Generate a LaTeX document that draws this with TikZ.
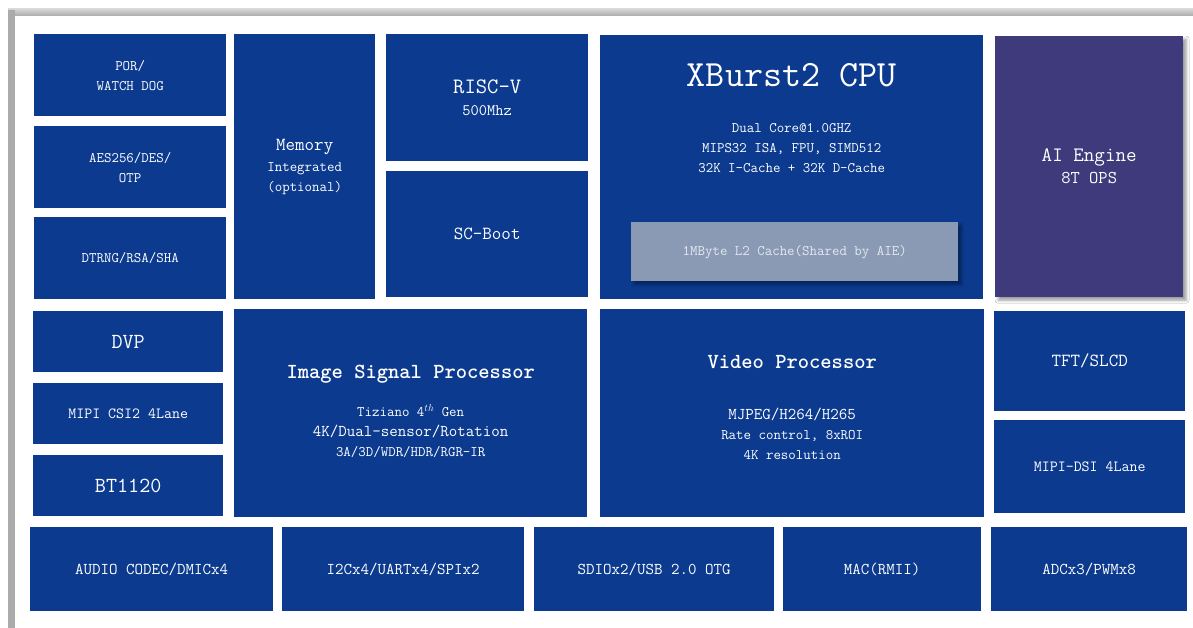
\documentclass[tikz,border=0pt]{standalone}
\usepackage{tikz}
\usepackage{xcolor}
\usetikzlibrary{shadows.blur}
\definecolor{chipblue}{HTML}{0B3A8F}
\definecolor{aipurple}{HTML}{3E3A7B}
\definecolor{cachegray}{HTML}{8A9AB4}
\definecolor{cachetext}{HTML}{E4E8F0}
\definecolor{framegray}{HTML}{ABABAB}
\tikzset{
    chip-block/.style = {fill=chipblue, text=white, rectangle, anchor=north west, inner sep=0pt, align=center, font=\ttfamily\fontsize{14.5}{20}\selectfont},
    chip-title/.style = {text=white, inner sep=0pt, align=center, font=\ttfamily\bfseries\fontsize{21.5}{24}\selectfont},
    chip-text/.style = {text=white, inner sep=0pt, align=center, font=\ttfamily\fontsize{14.5}{20}\selectfont},
    soft-shadow/.style = {blur shadow={shadow xshift=3pt, shadow yshift=-3pt, shadow blur radius=3pt, shadow opacity=40}},
}

\begin{document}
\begin{tikzpicture}[x=1pt, y=-1pt]
\useasboundingbox (0,0) rectangle (1193,628);
\fill[white] (0,0) rectangle (1193,628);
\shade[top color=framegray!50, bottom color=framegray] (8,9) rectangle (1193,16);
\fill[framegray] (8,10) rectangle (15,628);

\node[chip-block, minimum width=192pt, minimum height=82pt] (por) at (34,34) {POR/\\WATCH DOG};
\node[chip-block, minimum width=192pt, minimum height=82pt] (aes) at (34,126) {AES256/DES/\\OTP};
\node[chip-block, minimum width=192pt, minimum height=82pt] (trng) at (34,217) {DTRNG/RSA/SHA};
\node[chip-block, minimum width=141pt, minimum height=265pt] (mem) at (234,34) {{\fontsize{18.5}{22}\selectfont Memory}\\[1pt]Integrated\\(optional)};
\node[chip-block, minimum width=202pt, minimum height=127pt] (riscv) at (386,34) {{\fontsize{22}{26}\selectfont RISC-V}\\[2pt]{\fontsize{16}{18}\selectfont 500Mhz}};
\node[chip-block, minimum width=202pt, minimum height=126pt] (scboot) at (386,171) {\fontsize{18.5}{22}\selectfont SC-Boot};
\node[chip-block, minimum width=383pt, minimum height=264pt] (cpu) at (600,35) {};
\node[text=white, inner sep=0pt, font=\ttfamily\fontsize{37}{40}\selectfont] (cputitle) at ([yshift=-40pt]cpu.north) {XBurst2 CPU};
\node[chip-text] (cpuspec) at ([yshift=-113pt]cpu.north) {Dual Core@1.0GHZ\\MIPS32 ISA, FPU, SIMD512\\32K I-Cache + 32K D-Cache};
\node[chip-block, fill=cachegray, text=cachetext, soft-shadow, minimum width=327pt, minimum height=59pt] (l2) at (631,222) {1MByte L2 Cache(Shared by AIE)};
\node[chip-block, fill=aipurple, soft-shadow, minimum width=188pt, minimum height=261pt] (aie) at (995,36) {{\fontsize{20.5}{24}\selectfont AI Engine}\\[2pt]{\fontsize{18}{21}\selectfont 8T OPS}};

\node[chip-block, minimum width=190pt, minimum height=61pt] (dvp) at (33,311) {\fontsize{21.5}{24}\selectfont DVP};
\node[chip-block, minimum width=190pt, minimum height=61pt] (csi) at (33,383) {\fontsize{15.5}{18}\selectfont MIPI CSI2 4Lane};
\node[chip-block, minimum width=190pt, minimum height=61pt] (bt) at (33,455) {\fontsize{21.5}{24}\selectfont BT1120};
\node[chip-block, minimum width=353pt, minimum height=208pt] (isp) at (234,309) {};
\node[chip-title] (isptitle) at ([yshift=-65pt]isp.north) {Image Signal Processor};
\node[chip-text] (ispspec) at ([yshift=-122pt]isp.north) {Tiziano 4$^{th}$ Gen\\{\fontsize{16.5}{20}\selectfont 4K/Dual-sensor/Rotation}\\3A/3D/WDR/HDR/RGR-IR};
\node[chip-block, minimum width=384pt, minimum height=208pt] (vpu) at (600,309) {};
\node[chip-title] (vputitle) at ([yshift=-53pt]vpu.north) {Video Processor};
\node[chip-text] (vpuspec) at ([yshift=-125pt]vpu.north) {{\fontsize{16.5}{20}\selectfont MJPEG/H264/H265}\\Rate control, 8xROI\\4K resolution};
\node[chip-block, minimum width=191pt, minimum height=100pt] (tft) at (994,311) {\fontsize{18.5}{22}\selectfont TFT/SLCD};
\node[chip-block, minimum width=191pt, minimum height=93pt] (dsi) at (994,420) {\fontsize{15.5}{18}\selectfont MIPI-DSI 4Lane};

\node[chip-block, minimum width=243pt, minimum height=84pt] (audio) at (30,527) {\fontsize{16.5}{20}\selectfont AUDIO CODEC/DMICx4};
\node[chip-block, minimum width=242pt, minimum height=84pt] (bus) at (282,527) {\fontsize{16.5}{20}\selectfont I2Cx4/UARTx4/SPIx2};
\node[chip-block, minimum width=240pt, minimum height=84pt] (sdio) at (534,527) {\fontsize{16.5}{20}\selectfont SDIOx2/USB 2.0 OTG};
\node[chip-block, minimum width=198pt, minimum height=84pt] (mac) at (783,527) {\fontsize{16.5}{20}\selectfont MAC(RMII)};
\node[chip-block, minimum width=196pt, minimum height=84pt] (adc) at (991,527) {\fontsize{16.5}{20}\selectfont ADCx3/PWMx8};
\end{tikzpicture}
\end{document}
